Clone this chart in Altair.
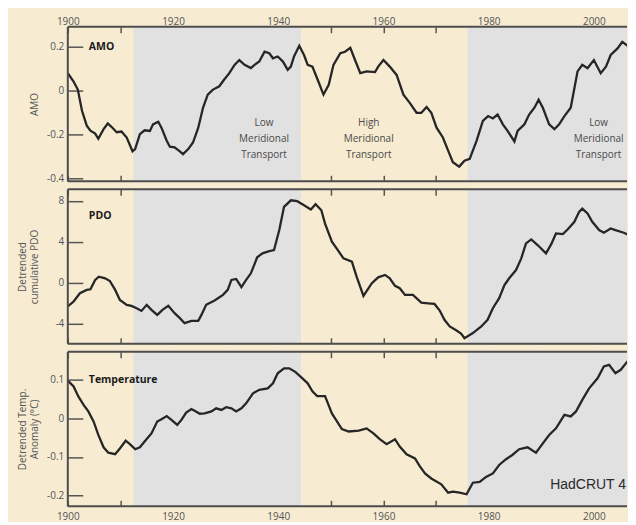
import altair as alt
import pandas as pd

# ---------------- data ----------------
amo_years = [1900, 1901.1, 1901.9, 1902.7, 1903.6, 1904.3, 1905.2, 1905.8, 1906.8, 1907.6,
             1908.3, 1909.3, 1910.2, 1911.2, 1912.3, 1912.8, 1913.7, 1914.6, 1915.6, 1916.2,
             1917.2, 1917.8, 1918.8, 1919.4, 1920.3, 1921.3, 1921.9, 1922.9, 1923.8, 1924.8,
             1925.7, 1926.6, 1927.6, 1928.8, 1929.7, 1930.7, 1931.7, 1932.6, 1933.6, 1934.8,
             1935.5, 1936.4, 1937.4, 1938.3, 1939.0, 1939.9, 1940.9, 1941.8, 1942.4, 1943.0,
             1944.0, 1944.9, 1945.6, 1946.5, 1947.5, 1948.6, 1949.6, 1950.5, 1951.8, 1952.7,
             1953.7, 1954.6, 1955.6, 1956.8, 1958.4, 1959.0, 1960.0, 1961.2, 1962.5, 1963.8,
             1965.0, 1966.3, 1967.2, 1968.2, 1969.1, 1970.1, 1971.3, 1972.3, 1973.2, 1974.4,
             1975.4, 1976.4, 1977.7, 1978.9, 1979.9, 1980.8, 1981.7, 1982.7, 1983.6, 1984.9,
             1985.5, 1986.8, 1987.7, 1988.7, 1989.5, 1990.3, 1991.5, 1992.5, 1993.4, 1994.4,
             1995.6, 1996.9, 1997.8, 1998.8, 2000.0, 2001.3, 2002.3, 2003.2, 2004.5, 2005.4,
             2006.7, 2008.0]
amo_values = [0.08, 0.042, 0.005, -0.092, -0.16, -0.183, -0.196, -0.22, -0.176, -0.15,
              -0.165, -0.19, -0.187, -0.214, -0.277, -0.267, -0.199, -0.181, -0.184, -0.154,
              -0.142, -0.169, -0.229, -0.256, -0.259, -0.277, -0.29, -0.267, -0.237, -0.169,
              -0.078, -0.018, 0.005, 0.02, 0.05, 0.08, 0.118, 0.14, 0.118, 0.103,
              0.118, 0.133, 0.178, 0.171, 0.148, 0.156, 0.133, 0.095, 0.11, 0.156,
              0.205, 0.163, 0.118, 0.11, 0.05, -0.018, 0.027, 0.118, 0.171, 0.178,
              0.196, 0.14, 0.08, 0.088, 0.085, 0.11, 0.14, 0.11, 0.072, -0.018,
              -0.056, -0.101, -0.101, -0.075, -0.101, -0.169, -0.214, -0.274, -0.327, -0.347,
              -0.32, -0.312, -0.229, -0.138, -0.116, -0.127, -0.109, -0.154, -0.184, -0.232,
              -0.184, -0.154, -0.109, -0.078, -0.041, -0.078, -0.154, -0.176, -0.154, -0.116,
              -0.078, 0.088, 0.118, 0.103, 0.14, 0.08, 0.11, 0.163, 0.193, 0.223,
              0.2, 0.148]

pdo_years = [1900, 1901.1, 1902.3, 1903.6, 1904.3, 1905.2, 1905.9, 1907.1, 1908.0, 1909.0,
             1909.9, 1911.2, 1912.1, 1913.1, 1914.0, 1915.0, 1915.9, 1917.0, 1918.0, 1919.1,
             1920.3, 1921.3, 1922.2, 1923.5, 1924.8, 1925.4, 1926.3, 1927.9, 1929.5, 1930.4,
             1931.1, 1932.0, 1933.0, 1933.9, 1934.8, 1936.0, 1937.0, 1938.3, 1939.2, 1940.2,
             1941.1, 1942.4, 1943.6, 1944.9, 1946.2, 1947.1, 1948.2, 1948.9, 1950.2, 1951.1,
             1952.4, 1954.0, 1954.9, 1956.2, 1957.8, 1959.0, 1960.3, 1961.2, 1962.2, 1963.1,
             1964.1, 1965.6, 1967.2, 1968.5, 1969.7, 1970.7, 1971.6, 1972.6, 1973.9, 1974.8,
             1975.4, 1977.0, 1978.6, 1979.8, 1980.8, 1982.0, 1983.0, 1983.9, 1985.2, 1986.2,
             1987.1, 1988.1, 1989.3, 1990.9, 1991.9, 1992.8, 1994.1, 1995.0, 1996.3, 1997.2,
             1997.8, 1998.8, 1999.7, 2001.0, 2001.9, 2003.2, 2004.1, 2005.7, 2006.7, 2007.3,
             2008.0]
pdo_values = [-2.31, -1.83, -1.02, -0.69, -0.63, 0.28, 0.6, 0.44, 0.18, -0.69,
              -1.67, -2.15, -2.25, -2.48, -2.74, -2.15, -2.64, -3.13, -2.64, -2.25,
              -2.96, -3.45, -3.94, -3.71, -3.71, -3.13, -2.15, -1.73, -1.18, -0.69,
              0.28, 0.38, -0.43, 0.28, 0.93, 2.49, 2.88, 3.1, 3.2, 5.15,
              7.42, 8.06, 7.97, 7.58, 7.16, 7.68, 7.09, 5.79, 4.01, 3.36,
              2.39, 2.06, 0.6, -1.28, -0.04, 0.54, 0.77, 0.44, -0.3, -0.53,
              -1.18, -1.18, -1.93, -2.0, -2.06, -2.71, -3.61, -4.26, -4.65, -4.97,
              -5.4, -4.91, -4.26, -3.61, -2.48, -1.5, -0.21, 0.44, 1.25, 2.39,
              3.85, 4.24, 3.69, 2.88, 3.78, 4.82, 4.76, 5.21, 5.96, 6.93,
              7.25, 6.77, 5.96, 5.15, 4.89, 5.31, 5.15, 4.89, 4.66, 4.17,
              3.36]

temp_years = [1900, 1901.1, 1902.0, 1903.0, 1903.9, 1904.9, 1905.8, 1906.8, 1907.7, 1909.0,
              1909.9, 1911.0, 1911.8, 1912.8, 1913.7, 1914.6, 1915.9, 1917.0, 1917.8, 1918.8,
              1919.7, 1920.8, 1921.6, 1922.5, 1923.5, 1924.1, 1925.1, 1926.0, 1927.3, 1928.2,
              1929.2, 1930.1, 1931.1, 1932.0, 1933.0, 1933.9, 1935.2, 1936.4, 1938.0, 1939.0,
              1939.9, 1941.1, 1942.1, 1943.3, 1944.6, 1945.6, 1946.5, 1947.4, 1948.9, 1950.2,
              1952.1, 1953.4, 1955.3, 1956.8, 1958.1, 1959.3, 1960.6, 1962.2, 1963.1, 1964.4,
              1966.0, 1966.9, 1967.9, 1969.1, 1971.0, 1972.3, 1973.2, 1974.5, 1975.8, 1977.0,
              1978.3, 1979.5, 1980.8, 1982.0, 1983.3, 1984.5, 1985.8, 1987.4, 1989.0, 1990.3,
              1991.5, 1992.8, 1994.4, 1995.6, 1996.6, 1997.8, 1999.1, 2000.7, 2001.9, 2002.9,
              2004.1, 2005.1, 2006.4, 2007.3, 2008.0]
temp_values = [0.098, 0.083, 0.057, 0.035, 0.018, -0.008, -0.043, -0.075, -0.089, -0.093,
               -0.078, -0.058, -0.067, -0.08, -0.075, -0.06, -0.039, -0.008, -0.002, 0.006,
               -0.004, -0.017, -0.004, 0.015, 0.024, 0.02, 0.012, 0.013, 0.018, 0.026,
               0.022, 0.029, 0.026, 0.018, 0.026, 0.039, 0.065, 0.074, 0.078, 0.091,
               0.117, 0.13, 0.13, 0.12, 0.104, 0.091, 0.07, 0.058, 0.058, 0.013,
               -0.028, -0.034, -0.032, -0.026, -0.039, -0.054, -0.067, -0.054, -0.073, -0.093,
               -0.104, -0.124, -0.143, -0.156, -0.171, -0.193, -0.19, -0.193, -0.197, -0.167,
               -0.165, -0.152, -0.143, -0.121, -0.106, -0.095, -0.08, -0.075, -0.089, -0.065,
               -0.043, -0.026, 0.009, 0.005, 0.018, 0.048, 0.078, 0.104, 0.135, 0.139,
               0.117, 0.126, 0.148, 0.139, 0.13]

band_start = [1912.5, 1976.0]
band_end = [1944.3, 2010.0]
tick_years = [1900, 1910, 1920, 1930, 1940, 1950, 1960, 1970, 1980, 1990, 2000]

amo_ticks = [0.2, 0, -0.2, -0.4]
pdo_ticks = [8, 4, 0, -4]
temp_ticks = [0.1, 0, -0.1, -0.2]

region_labels = ["Low\nMeridional\nTransport", "High\nMeridional\nTransport", "Low\nMeridional\nTransport"]
region_years = [1937.3, 1957.2, 2000.9]
region_values = [-0.147, -0.147, -0.147]

# ---------------- styling ----------------
W = 561
XDOM = [1900, 2006.3]
BG = "#f7ecd2"
BAND = "#e1e1e1"
FONT = "Open Sans"
LINE = "#262626"
FRAME = "#4d4d4d"

bands = pd.DataFrame({"start": band_start, "end": band_end})
xscale = alt.Scale(domain=XDOM, nice=False, zero=False)
one_row = pd.DataFrame({"k": [0]})


def x_axis(orient, labels, pad):
    return alt.Axis(orient=orient, values=tick_years, offset=-6, tickSize=6,
                    domain=False, grid=False, labels=labels, labelPadding=pad, title=None,
                    labelFlush=False,
                    labelExpr="datum.value % 20 == 0 ? datum.value + '' : ''",
                    tickColor="#555", tickWidth=1.5, labelColor="#555", labelFontSize=10,
                    labelFont=FONT)


def y_axis(yticks, ytitle):
    return alt.Axis(values=yticks, offset=-15, tickSize=15, domain=False, grid=False,
                    labelPadding=4, labelExpr="datum.value + ''", title=ytitle,
                    tickColor="#555", tickWidth=1.5, labelColor="#555",
                    labelFontSize=10, labelFont=FONT, titleFont=FONT,
                    titleFontSize=10, titleFontWeight="normal", titleColor="#555",
                    minExtent=40, maxExtent=40, titlePadding=3)


def frame_layers(height):
    base = alt.Chart(one_row).mark_rule(color=FRAME, strokeWidth=2)
    return [
        base.encode(x=alt.value(0), x2=alt.value(W), y=alt.value(0)),
        base.encode(x=alt.value(0), x2=alt.value(W), y=alt.value(height)),
        base.encode(x=alt.value(0), y=alt.value(0), y2=alt.value(height)),
    ]


def panel(years, values, ydom, yticks, ytitle, name, name_year, name_value,
          top_labels, bottom_labels, height, extra=None):
    df = pd.DataFrame({"year": years, "value": values})
    yscale = alt.Scale(domain=ydom, nice=False, zero=False)
    yax = y_axis(yticks, ytitle)
    band_layer = alt.Chart(bands).mark_rect(color=BAND, clip=True).encode(
        x=alt.X("start:Q", scale=xscale, axis=x_axis("top", top_labels, 0)),
        x2="end:Q",
    )
    line_layer = alt.Chart(df).mark_line(color=LINE, strokeWidth=2.3, clip=True).encode(
        x=alt.X("year:Q", scale=xscale, axis=x_axis("bottom", bottom_labels, 5)),
        y=alt.Y("value:Q", scale=yscale, axis=yax),
    )
    name_df = pd.DataFrame({"year": [name_year], "value": [name_value], "label": [name]})
    name_layer = alt.Chart(name_df).mark_text(
        align="left", baseline="middle", font=FONT, fontSize=10.5, fontWeight="bold",
        color="#1a1a1a").encode(
        x=alt.X("year:Q", scale=xscale, axis=None),
        y=alt.Y("value:Q", scale=yscale, axis=yax),
        text="label:N")
    layers = [band_layer, line_layer, name_layer]
    if extra is not None:
        layers += extra(yscale, yax)
    layers += frame_layers(height)
    return alt.layer(*layers).resolve_axis(x="independent").properties(width=W, height=height)


def amo_extra(yscale, yax):
    rdf = pd.DataFrame({"year": region_years, "value": region_values, "label": region_labels})
    return [alt.Chart(rdf).mark_text(align="center", baseline="middle", font=FONT, fontSize=10,
                                     lineBreak="\n", lineHeight=16, color="#4a4a4a").encode(
        x=alt.X("year:Q", scale=xscale, axis=None),
        y=alt.Y("value:Q", scale=yscale, axis=yax),
        text="label:N")]


def temp_extra(yscale, yax):
    hdf = pd.DataFrame({"year": [2006.1], "value": [-0.173], "label": ["HadCRUT 4"]})
    return [alt.Chart(hdf).mark_text(align="right", baseline="middle", font="Liberation Sans",
                                     fontSize=14, color="#2a2a2a").encode(
        x=alt.X("year:Q", scale=xscale, axis=None),
        y=alt.Y("value:Q", scale=yscale, axis=yax),
        text="label:N")]


p1 = panel(amo_years, amo_values, [-0.414, 0.292], amo_ticks, "AMO", "AMO", 1904, 0.2,
           True, False, 155, amo_extra)
p2 = panel(pdo_years, pdo_values, [-5.95, 9.14], pdo_ticks, ["Detrended", "cumulative PDO"],
           "PDO", 1904, 6.5, False, False, 155)
p3 = panel(temp_years, temp_values, [-0.228, 0.173], temp_ticks,
           ["Detrended Temp.", "Anomaly (°C)"], "Temperature", 1904, 0.1, False, True, 155,
           temp_extra)

chart = alt.vconcat(p1, p2, p3, spacing=8, bounds="flush").properties(
    background=BG,
    padding={"left": 10, "top": 8, "right": 0, "bottom": 0},
).configure_view(stroke=None)

chart.save("out.html", embed_options={"renderer": "svg", "actions": False})
